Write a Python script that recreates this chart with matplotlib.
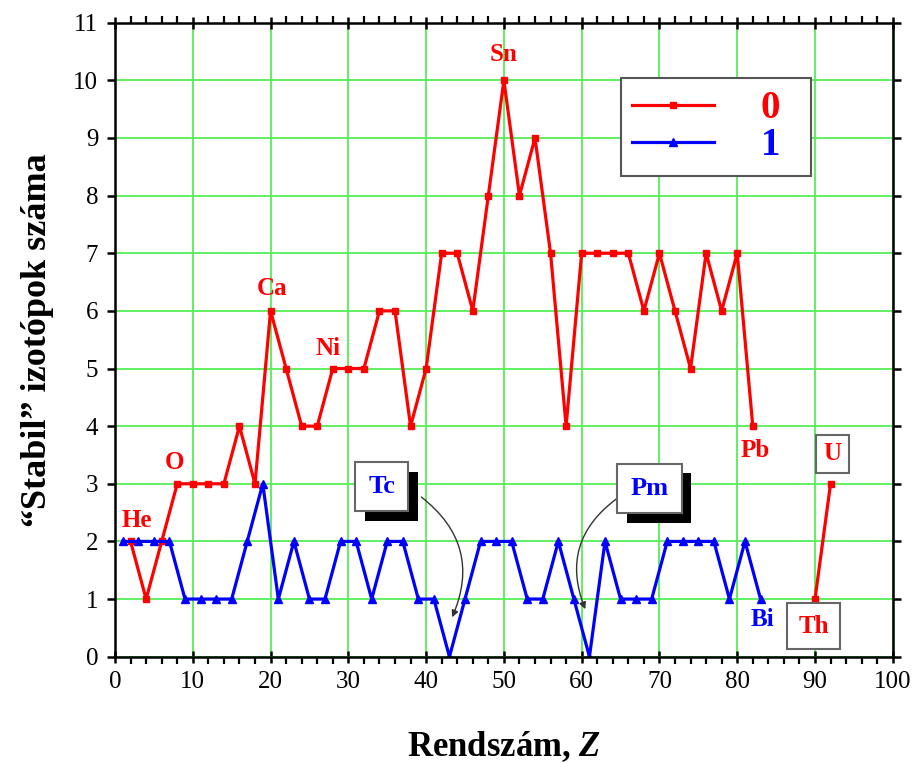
import matplotlib
matplotlib.use("Agg")
import matplotlib.pyplot as plt
import matplotlib.patheffects as pe
from matplotlib.ticker import MultipleLocator

# even Z -> series "0", odd Z -> series "1"
z_even = [2, 4, 6, 8, 10, 12, 14, 16, 18, 20, 22, 24, 26, 28, 30, 32, 34, 36, 38, 40,
          42, 44, 46, 48, 50, 52, 54, 56, 58, 60, 62, 64, 66, 68, 70, 72, 74, 76, 78, 80, 82]
n_even = [2, 1, 2, 3, 3, 3, 3, 4, 3, 6, 5, 4, 4, 5, 5, 5, 6, 6, 4, 5,
          7, 7, 6, 8, 10, 8, 9, 7, 4, 7, 7, 7, 7, 6, 7, 6, 5, 7, 6, 7, 4]
z_actinide = [90, 92]
n_actinide = [1, 3]
z_odd = [1, 3, 5, 7, 9, 11, 13, 15, 17, 19, 21, 23, 25, 27, 29, 31, 33, 35, 37, 39, 41,
         43, 45, 47, 49, 51, 53, 55, 57, 59, 61, 63, 65, 67, 69, 71, 73, 75, 77, 79, 81, 83]
n_odd = [2, 2, 2, 2, 1, 1, 1, 1, 2, 3, 1, 2, 1, 1, 2, 2, 1, 2, 2, 1, 1,
         0, 1, 2, 2, 2, 1, 1, 2, 1, 0, 2, 1, 1, 1, 2, 2, 2, 2, 1, 2, 1]

red_labels = [("He", 2.8, 2.37), ("O", 7.7, 3.37), ("Ca", 20.2, 6.39), ("Ni", 27.4, 5.34),
              ("Sn", 49.9, 10.45), ("Pb", 82.3, 3.57)]

plt.rcParams['font.family'] = ['Liberation Serif', 'DejaVu Serif']
plt.rcParams['mathtext.fontset'] = 'custom'
plt.rcParams['mathtext.rm'] = 'Liberation Serif'
plt.rcParams['mathtext.it'] = 'Liberation Serif:italic'
plt.rcParams['mathtext.bf'] = 'Liberation Serif:bold'
plt.rcParams['mathtext.bfit'] = 'Liberation Serif:italic:bold'

RED = '#ff0000'
BLUE = '#0000ff'
GRID = '#55ee55'

fig = plt.figure(figsize=(9.15, 7.63), dpi=100)
ax = fig.add_axes([0.1257, 0.1393, 0.8500, 0.8310])

ax.plot(z_even, n_even, color=RED, lw=2.3, marker='s', ms=4.5, label='0')
ax.plot(z_actinide, n_actinide, color=RED, lw=2.3, marker='s', ms=4.5)
ax.plot(z_odd, n_odd, color=BLUE, lw=2.3, marker='^', ms=5.5, label='1')

ax.set_xlim(0, 100)
ax.set_ylim(0, 11)
ax.xaxis.set_major_locator(MultipleLocator(10))
ax.xaxis.set_minor_locator(MultipleLocator(2))
ax.yaxis.set_major_locator(MultipleLocator(1))
ax.grid(True, which='major', color=GRID, lw=1.3)
ax.set_axisbelow(True)
for s in ax.spines.values():
    s.set_linewidth(1.8)
ax.tick_params(which='major', direction='inout', length=9, width=1.8, labelsize=18,
               top=True, right=True, pad=6)
ax.tick_params(which='minor', direction='out', length=5, width=1.6, top=True)
ax.tick_params(axis='y', which='major', direction='out', length=6)

ax.set_xlabel(r'Rendszám, $\mathbfit{Z}$', fontsize=25, fontweight='bold', labelpad=26)
ax.set_ylabel('\u201cStabil\u201d izotópok száma', fontsize=26, fontweight='bold', labelpad=14)

for txt, x, y in red_labels:
    ax.text(x, y, txt, color=RED, fontsize=18, fontweight='bold', ha='center', va='center')
ax.text(83.3, 0.64, 'Bi', color=BLUE, fontsize=18, fontweight='bold', ha='center', va='center')

plain_box = dict(boxstyle='square,pad=0.45', facecolor='white', edgecolor='#666666', lw=1.5)
ax.text(89.8, 0.53, 'Th', color=RED, fontsize=18, fontweight='bold', ha='center', va='center',
        bbox=plain_box, zorder=5)
ax.text(92.2, 3.52, 'U', color=RED, fontsize=18, fontweight='bold', ha='center', va='center',
        bbox=dict(boxstyle='square,pad=0.3', facecolor='white', edgecolor='#666666', lw=1.5), zorder=5)

# boxed labels with drop shadow and curved arrows
for txt, x, y, tx, ty, rad in [("Tc", 34.3, 2.95, 43.2, 0.64, -0.4), ("Pm", 68.7, 2.92, 60.6, 0.78, 0.4)]:
    t = ax.text(x, y, txt, color=BLUE, fontsize=19, fontweight='bold', ha='center', va='center',
                bbox=dict(boxstyle='square,pad=0.5', facecolor='white', edgecolor='#666666', lw=1.5),
                zorder=5)
    t.get_bbox_patch().set_path_effects([
        pe.SimplePatchShadow(offset=(7, -7), shadow_rgbFace='black', alpha=1.0),
        pe.Normal()])
    sx = x + 4.8 if tx > x else x - 3.9
    ax.annotate('', xy=(tx, ty), xytext=(sx, y - 0.15),
                arrowprops=dict(arrowstyle='-|>', color='#333333', lw=1.0,
                                connectionstyle='arc3,rad=%s' % rad, mutation_scale=10))

leg = ax.legend(loc='upper left', bbox_to_anchor=(0.65, 0.912), fancybox=False, edgecolor='#555555',
                prop={'size': 28, 'weight': 'bold'}, handlelength=2.1, handletextpad=1.2,
                borderpad=0.3, labelspacing=0.0, borderaxespad=0, framealpha=1)
leg.get_frame().set_linewidth(1.5)
for t, c, lab in zip(leg.get_texts(), [RED, BLUE], ['0  ', '1  ']):
    t.set_color(c)
    t.set_text(lab)

fig.savefig('out.png', dpi=100)
